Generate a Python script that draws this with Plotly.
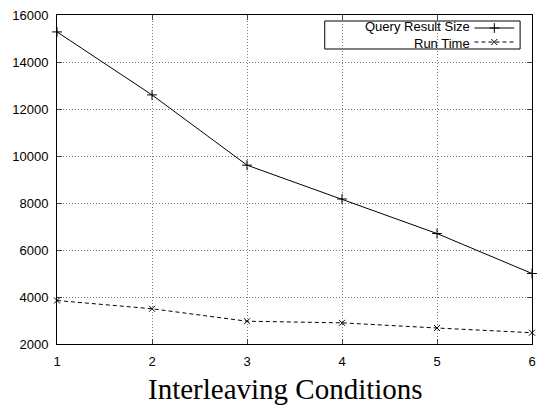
import plotly.graph_objects as go

conditions = [1, 2, 3, 4, 5, 6]
query_result_size = [15280, 12600, 9610, 8170, 6700, 5000]
run_time = [3850, 3500, 2970, 2900, 2680, 2480]
series_names = ["Query Result Size", "Run Time"]
y_ticks = [2000, 4000, 6000, 8000, 10000, 12000, 14000, 16000]
y_tick_labels = [str(v) for v in y_ticks]
x_tick_labels = [str(v) for v in conditions]
x_title = "Interleaving Conditions"

L, R, T, B = 57, 536, 15, 344
W, H = 538, 406

def px(x):
    return (x - L) / (R - L)

def py(y):
    return (B - y) / (B - T)

fig = go.Figure()
fig.add_trace(go.Scatter(
    x=conditions, y=query_result_size, mode="lines+markers", name=series_names[0],
    line=dict(color="black", width=1),
    marker=dict(symbol="cross-thin", size=7, line=dict(color="black", width=1)),
    showlegend=False, cliponaxis=False))
fig.add_trace(go.Scatter(
    x=conditions, y=run_time, mode="lines+markers", name=series_names[1],
    line=dict(color="black", width=1, dash="4px,3px"),
    marker=dict(symbol="x-thin", size=6, line=dict(color="black", width=1)),
    showlegend=False, cliponaxis=False))

# legend samples on an overlay axis in 0..1 units
y1, y2 = 28.0, 42.0
fig.add_trace(go.Scatter(
    x=[px(478), px(518)], y=[py(y1), py(y1)], xaxis="x2", yaxis="y2",
    mode="lines", line=dict(color="black", width=1), showlegend=False, hoverinfo="skip"))
fig.add_trace(go.Scatter(
    x=[px(498)], y=[py(y1)], xaxis="x2", yaxis="y2",
    mode="markers", marker=dict(symbol="cross-thin", size=7, line=dict(color="black", width=1)),
    showlegend=False, hoverinfo="skip"))
fig.add_trace(go.Scatter(
    x=[px(478), px(518)], y=[py(y2), py(y2)], xaxis="x2", yaxis="y2",
    mode="lines", line=dict(color="black", width=1, dash="4px,3px"), showlegend=False, hoverinfo="skip"))
fig.add_trace(go.Scatter(
    x=[px(498)], y=[py(y2)], xaxis="x2", yaxis="y2",
    mode="markers", marker=dict(symbol="x-thin", size=6, line=dict(color="black", width=1)),
    showlegend=False, hoverinfo="skip"))

fig.add_shape(type="rect", xref="paper", yref="paper",
              x0=px(327), x1=px(524), y0=py(49), y1=py(21),
              line=dict(color="black", width=1), fillcolor="white", layer="below")

fig.add_annotation(text=series_names[0], xref="paper", yref="paper", x=px(474), y=py(35),
                   xanchor="right", yanchor="bottom", showarrow=False, borderpad=0,
                   font=dict(family="Liberation Sans", size=13, color="black"))
fig.add_annotation(text=series_names[1], xref="paper", yref="paper", x=px(474), y=py(35),
                   xanchor="right", yanchor="top", showarrow=False, borderpad=0,
                   font=dict(family="Liberation Sans", size=13, color="black"))

fig.add_annotation(text=x_title, xref="paper", yref="paper", x=px(287), y=py(389),
                   xanchor="center", yanchor="middle", showarrow=False, borderpad=0,
                   font=dict(family="Liberation Serif", size=29, color="black"))

fig.update_layout(
    width=W, height=H,
    margin=dict(l=L, r=W - R, t=T, b=H - B),
    paper_bgcolor="white", plot_bgcolor="white",
    font=dict(family="Liberation Sans", size=12, color="black"),
    xaxis=dict(range=[1, 6], tickvals=conditions, ticktext=x_tick_labels,
               ticks="inside", ticklen=5, ticklabelstandoff=5, ticklabeloverflow="allow",
               showline=True, linecolor="black", linewidth=1, mirror="allticks",
               showgrid=True, gridcolor="#777", griddash="1px,2px", gridwidth=1,
               zeroline=False, tickfont=dict(size=13)),
    yaxis=dict(range=[2000, 16000], tickvals=y_ticks, ticktext=y_tick_labels,
               ticks="inside", ticklen=5, ticklabelstandoff=5,
               showline=True, linecolor="black", linewidth=1, mirror="allticks",
               showgrid=True, gridcolor="#777", griddash="1px,2px", gridwidth=1,
               zeroline=False, tickfont=dict(size=13)),
    xaxis2=dict(range=[0, 1], overlaying="x", visible=False, fixedrange=True),
    yaxis2=dict(range=[0, 1], overlaying="y", visible=False, fixedrange=True),
)

fig.write_html("out.html")
